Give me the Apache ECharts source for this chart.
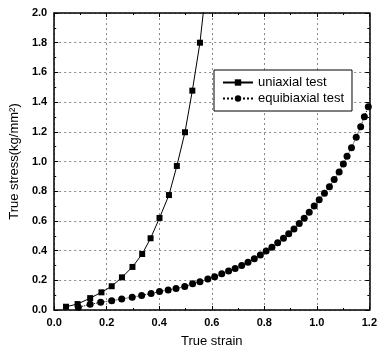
<!DOCTYPE html>
<html><head><meta charset="utf-8">
<script src="https://cdn.jsdelivr.net/npm/echarts@6/dist/echarts.min.js"></script>
<style>html,body{margin:0;padding:0;background:#fff}#c{width:380px;height:353px}</style>
</head><body><div id="c"></div>
<script>
var xTicks = ['0.0','0.2','0.4','0.6','0.8','1.0','1.2'];
var yTicks = ['0.0','0.2','0.4','0.6','0.8','1.0','1.2','1.4','1.6','1.8','2.0'];
var uniStrain = [0.045,0.089,0.137,0.180,0.219,0.258,0.298,0.335,0.367,0.401,0.437,0.467,0.498,0.526,0.555];
var uniStress = [0.022,0.040,0.080,0.119,0.160,0.220,0.290,0.377,0.483,0.620,0.774,0.970,1.197,1.477,1.800];
// line continues past the top of the frame
var uniExtraStrain = 0.575, uniExtraStress = 2.12;
var biStrain = [0.092,0.137,0.177,0.219,0.257,0.297,0.333,0.369,0.401,0.434,0.464,0.497,0.527,0.555,0.585,0.611,0.638,0.664,0.689,0.714,0.738,0.762,0.785,0.807,0.829,0.851,0.873,0.893,0.913,0.933,0.952,0.971,0.990,1.009,1.029,1.048,1.066,1.085,1.101,1.115,1.132,1.150,1.167,1.181,1.196];
var biStress = [0.018,0.038,0.052,0.063,0.074,0.086,0.098,0.111,0.125,0.135,0.144,0.158,0.176,0.191,0.208,0.224,0.244,0.262,0.279,0.300,0.322,0.345,0.370,0.398,0.423,0.453,0.483,0.513,0.546,0.583,0.618,0.658,0.700,0.742,0.786,0.830,0.878,0.930,0.983,1.035,1.093,1.163,1.234,1.302,1.369];

var uniData = uniStrain.map(function(x,i){return [x, uniStress[i]];});
uniData.push({value:[uniExtraStrain, uniExtraStress], symbol:'none'});
var biData = biStrain.map(function(x,i){return [x, biStress[i]];});

var font = 'Liberation Sans, Arial, sans-serif';
var grid = {left:53, right:9, top:13, bottom:43};
var splitStyle = {show:true, lineStyle:{color:'#888', type:[2,3], width:1}};
function xAx(pos, showLabel){
  return {type:'value', position:pos, min:0, max:1.2, interval:0.2,
    name: showLabel ? 'True strain' : '', nameLocation:'middle', nameGap:25,
    nameTextStyle:{fontFamily:font, fontSize:13, color:'#000'},
    axisLine:{onZero:false, lineStyle:{color:'#000', width:1.5}},
    axisTick:{inside:true, length:4, lineStyle:{color:'#000'}},
    minorTick:{show:true, splitNumber:2, length:2, lineStyle:{color:'#000'}},
    axisLabel:{show:showLabel, color:'#000', fontFamily:font, fontSize:11, fontWeight:'bold', margin:7,
      formatter:function(v){return xTicks[Math.round(v/0.2)];}},
    splitLine: showLabel ? splitStyle : {show:false}};
}
function yAx(pos, showLabel){
  return {type:'value', position:pos, min:0, max:2.0, interval:0.2,
    name: showLabel ? 'True stress(kg/mm²)' : '', nameLocation:'middle', nameGap:29,
    nameTextStyle:{fontFamily:font, fontSize:13, color:'#000'},
    axisLine:{onZero:false, lineStyle:{color:'#000', width:1.5}},
    axisTick:{inside:true, length:4, lineStyle:{color:'#000'}},
    minorTick:{show:true, splitNumber:2, length:2, lineStyle:{color:'#000'}},
    axisLabel:{show:showLabel, color:'#000', fontFamily:font, fontSize:11, fontWeight:'bold', margin:7,
      formatter:function(v){return yTicks[Math.round(v/0.2)];}},
    splitLine: showLabel ? splitStyle : {show:false}};
}
var chart = echarts.init(document.getElementById('c'), null, {renderer:'canvas'});
chart.setOption({
  animation:false,
  backgroundColor:'#fff',
  grid: grid,
  xAxis:[xAx('bottom', true), xAx('top', false)],
  yAxis:[yAx('left', true), yAx('right', false)],
  legend:{left:214, top:70, orient:'vertical', itemGap:3, itemWidth:30, itemHeight:8,
    backgroundColor:'#fff', borderColor:'#000', borderWidth:1, padding:[6,8,6,8],
    textStyle:{fontFamily:font, fontSize:13, color:'#000'},
    data:['uniaxial test','equibiaxial test']},
  series:[
    {name:'uniaxial test', type:'line', xAxisIndex:0, yAxisIndex:0, data:uniData,
     symbol:'rect', symbolSize:6, clip:true,
     itemStyle:{color:'#000'}, lineStyle:{color:'#000', width:1}},
    {name:'equibiaxial test', type:'line', xAxisIndex:0, yAxisIndex:0, data:biData,
     symbol:'circle', symbolSize:7, clip:true,
     itemStyle:{color:'#000'}, lineStyle:{color:'#000', width:1, type:'dotted'}}
  ]
});
</script></body></html>
